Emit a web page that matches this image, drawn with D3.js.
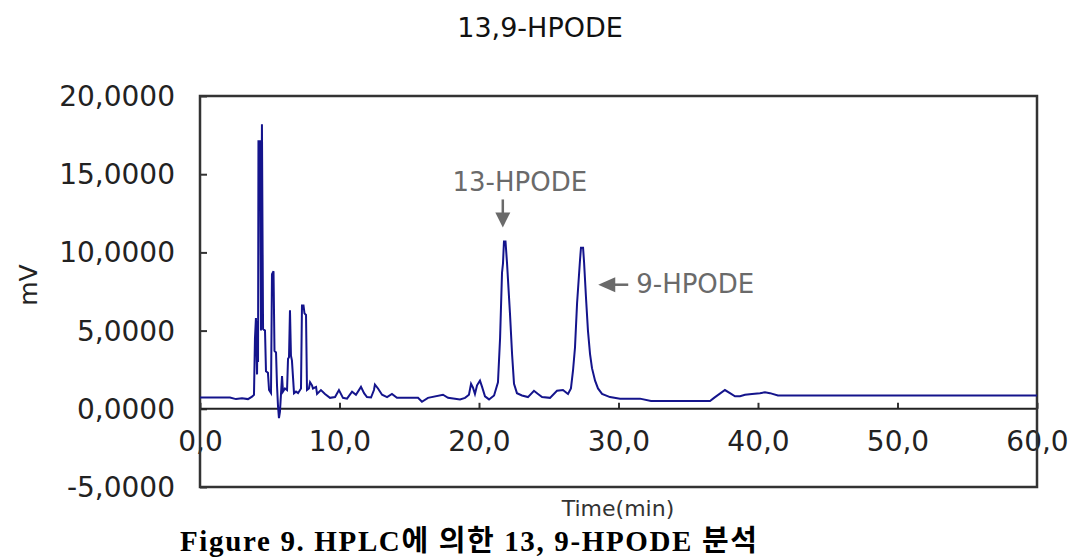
<!DOCTYPE html>
<html>
<head>
<meta charset="utf-8">
<script src="https://cdn.jsdelivr.net/npm/d3@7"></script>
<style>
  body { margin: 0; background: #fff; }
  svg { display: block; }
</style>
</head>
<body>
<svg id="myGraph" width="1075" height="558"></svg>
<script>
var svgWidth = 1075;
var svgHeight = 558;

// retention time (min)
var times = [0, 2.15, 2.58, 3.01, 3.44, 3.73, 3.87, 3.94, 4.01, 4.09, 4.12, 4.16, 4.19, 4.30, 4.37, 4.44, 4.52, 4.66, 4.73, 4.87,
  4.95, 5.09, 5.16, 5.27, 5.34, 5.45, 5.52, 5.59, 5.66, 5.73, 5.81, 5.88, 5.95, 6.09, 6.24, 6.31, 6.38, 6.45, 6.52, 6.59,
  6.74, 6.88, 7.03, 7.24, 7.31, 7.42, 7.49, 7.60, 7.67, 7.81, 7.89, 8.03, 8.10, 8.32, 8.39, 8.67, 8.96, 9.32, 9.68, 9.96,
  10.25, 10.54, 10.90, 11.18, 11.54, 11.76, 11.97, 12.26, 12.47, 12.54, 12.76, 13.05, 13.41, 13.76, 14.12, 15.05, 15.63, 15.91, 16.34, 17.42,
  17.78, 18.64, 19.00, 19.28, 19.43, 19.57, 19.71, 19.86, 20.07, 20.22, 20.43, 20.72, 21.08, 21.36, 21.51, 21.65, 21.72, 21.79, 21.90, 22.01,
  22.22, 22.37, 22.51, 22.72, 23.08, 23.51, 23.94, 24.23, 24.52, 25.09, 25.59, 26.02, 26.38, 26.59, 26.74, 26.88, 27.03, 27.24, 27.31, 27.46,
  27.53, 27.67, 27.81, 27.96, 28.10, 28.32, 28.53, 28.82, 29.39, 30.11, 30.47, 31.54, 32.33, 36.56, 36.85, 37.63, 37.99, 38.35, 38.71, 39.07,
  39.57, 40.14, 40.50, 40.86, 41.43, 60];

// signal (mV)
var signal = [0.72, 0.72, 0.62, 0.68, 0.62, 0.78, 0.9, 4.5, 5.8, 2.2, 5.6, 3.0, 17.1, 17.1, 5.0, 18.2, 5.1, 5.0, 2.4, 2.3,
  1.2, 1.0, 8.6, 8.8, 3.7, 3.6, 1.5, 0.2, -0.6, -0.2, 1.0, 2.1, 1.1, 1.3, 1.2, 3.2, 3.3, 6.3, 3.4, 3.1,
  1.0, 1.1, 1.0, 1.3, 6.6, 6.6, 6.1, 6.0, 1.2, 1.3, 1.7, 1.5, 1.3, 1.4, 0.95, 1.2, 0.95, 0.7, 0.75, 1.2,
  0.7, 0.65, 1.1, 0.9, 1.4, 1.0, 0.75, 0.72, 1.2, 1.55, 1.3, 0.9, 0.75, 0.95, 0.7, 0.7, 0.7, 0.45, 0.7, 0.9,
  0.7, 0.6, 0.7, 0.9, 1.6, 1.35, 0.95, 1.5, 1.8, 1.4, 0.8, 0.6, 0.85, 1.7, 4.5, 8.7, 9.3, 10.7, 10.7, 9.3,
  6.1, 3.5, 1.6, 1.0, 0.85, 0.75, 1.15, 0.95, 0.75, 0.7, 1.15, 1.2, 0.95, 1.3, 2.45, 3.9, 6.75, 9.5, 10.3, 10.3,
  9.4, 7.1, 5.0, 3.5, 2.6, 1.8, 1.3, 0.95, 0.75, 0.65, 0.65, 0.65, 0.5, 0.5, 0.7, 1.2, 1.0, 0.8, 0.8, 0.9,
  0.95, 1.0, 1.05, 1.0, 0.85, 0.85];

var xTicks = [0, 10, 20, 30, 40, 50, 60];
var yTicks = [-5, 0, 5, 10, 15, 20];

// peak labels
var peakNames = ['13-HPODE', '9-HPODE'];
var peakTimes = [21.85, 27.4];
var peakValues = [10.7, 10.3];

var svg = d3.select('#myGraph');
var fontFamily = '"DejaVu Sans", sans-serif';

var x = d3.scaleLinear().domain([0, 60]).range([200, 1037]);
var y = d3.scaleLinear().domain([-5, 20]).range([487, 96]);

// 제목
svg.append('text')
  .attr('x', 540)
  .attr('y', 27)
  .attr('text-anchor', 'middle')
  .attr('dominant-baseline', 'central')
  .style('font-family', fontFamily)
  .style('font-size', '27px')
  .style('fill', '#111')
  .text('13,9-HPODE');

// y axis
var yAxis = d3.axisLeft(y)
  .tickValues(yTicks)
  .tickSize(-7)
  .tickPadding(25)
  .tickFormat(function(d) { return d3.format('.4f')(d).replace('.', ',').replace('−', '-'); });

var gy = svg.append('g')
  .attr('transform', 'translate(200,0)')
  .call(yAxis);
gy.select('.domain').remove();
gy.selectAll('line').attr('stroke', '#333').attr('stroke-width', 2);
gy.selectAll('text')
  .attr('dy', null)
  .attr('dominant-baseline', 'central')
  .style('font-family', fontFamily)
  .style('font-size', '28px')
  .style('fill', '#222');

// x axis on zero line
var xAxis = d3.axisBottom(x)
  .tickValues(xTicks)
  .tickSize(-6)
  .tickFormat(function(d) { return d3.format('.1f')(d).replace('.', ','); });

var gx = svg.append('g')
  .attr('transform', 'translate(0,' + y(0) + ')')
  .call(xAxis);
gx.select('.domain').remove();
gx.selectAll('line').attr('stroke', '#333').attr('stroke-width', 2);
gx.selectAll('text')
  .attr('y', 33)
  .attr('dy', null)
  .attr('dominant-baseline', 'central')
  .style('font-family', fontFamily)
  .style('font-size', '28px')
  .style('fill', '#222');

// zero line
svg.append('line')
  .attr('x1', x(0)).attr('x2', x(60))
  .attr('y1', y(0)).attr('y2', y(0))
  .attr('stroke', '#222')
  .attr('stroke-width', 2);

// plot frame
svg.append('rect')
  .attr('x', x(0))
  .attr('y', y(20))
  .attr('width', x(60) - x(0))
  .attr('height', y(-5) - y(20))
  .attr('fill', 'none')
  .attr('stroke', '#333')
  .attr('stroke-width', 2.5);

// chromatogram
var points = times.map(function(t, i) { return [t, signal[i]]; });
var line = d3.line()
  .x(function(d) { return x(d[0]); })
  .y(function(d) { return y(d[1]); });

svg.append('path')
  .datum(points)
  .attr('d', line)
  .attr('fill', 'none')
  .attr('stroke', '#14148c')
  .attr('stroke-width', 2)
  .attr('stroke-linejoin', 'miter');

// peak annotations
var grey = '#6a6a6a';
var px13 = x(peakTimes[0]);
var py13 = y(peakValues[0]);
svg.append('text')
  .attr('x', px13 + 15)
  .attr('y', py13 - 59)
  .attr('text-anchor', 'middle')
  .attr('dominant-baseline', 'central')
  .style('font-family', fontFamily)
  .style('font-size', '26px')
  .style('fill', grey)
  .text(peakNames[0]);
svg.append('line')
  .attr('x1', px13 - 2).attr('x2', px13 - 2)
  .attr('y1', py13 - 42).attr('y2', py13 - 26)
  .attr('stroke', grey).attr('stroke-width', 2.5);
svg.append('path')
  .attr('d', 'M' + (px13 - 9.5) + ',' + (py13 - 29) + 'L' + (px13 + 5.5) + ',' + (py13 - 29) + 'L' + (px13 - 2) + ',' + (py13 - 14) + 'Z')
  .attr('fill', grey);

var px9 = x(peakTimes[1]);
var py9 = y(peakValues[1]) + 37;
svg.append('line')
  .attr('x1', px9 + 46).attr('x2', px9 + 30)
  .attr('y1', py9).attr('y2', py9)
  .attr('stroke', grey).attr('stroke-width', 2.5);
svg.append('path')
  .attr('d', 'M' + (px9 + 33) + ',' + (py9 - 7.5) + 'L' + (px9 + 33) + ',' + (py9 + 7.5) + 'L' + (px9 + 16) + ',' + py9 + 'Z')
  .attr('fill', grey);
svg.append('text')
  .attr('x', px9 + 54)
  .attr('y', py9 - 1)
  .attr('dominant-baseline', 'central')
  .style('font-family', fontFamily)
  .style('font-size', '26px')
  .style('fill', grey)
  .text(peakNames[1]);

// axis titles
svg.append('text')
  .attr('transform', 'translate(28,285) rotate(-90)')
  .attr('text-anchor', 'middle')
  .attr('dominant-baseline', 'central')
  .style('font-family', fontFamily)
  .style('font-size', '25px')
  .style('fill', '#222')
  .text('mV');

svg.append('text')
  .attr('x', 618)
  .attr('y', 508)
  .attr('text-anchor', 'middle')
  .attr('dominant-baseline', 'central')
  .style('font-family', fontFamily)
  .style('font-size', '22px')
  .style('fill', '#333')
  .text('Time(min)');

svg.append('text')
  .attr('x', 180)
  .attr('y', 551)
  .attr('textLength', 577)
  .attr('lengthAdjust', 'spacing')
  .style('font-family', '"Liberation Serif", "Noto Sans CJK KR", serif')
  .style('font-size', '29px')
  .style('font-weight', 'bold')
  .style('fill', '#000')
  .text('Figure 9. HPLC에 의한 13, 9-HPODE 분석');
</script>
</body>
</html>
